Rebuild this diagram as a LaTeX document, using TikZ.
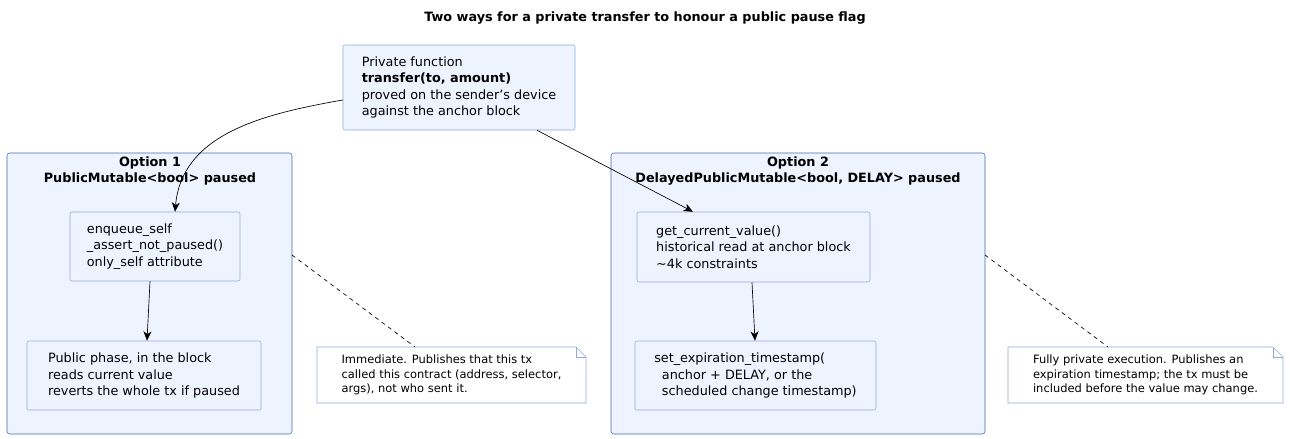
\documentclass[tikz,border=0pt]{standalone}
\usepackage{fontspec}
\setmainfont{DejaVu Sans}
\usetikzlibrary{positioning, arrows.meta, shapes.misc}
\definecolor{boxfill}{HTML}{EEF4FF}
\definecolor{boxline}{HTML}{8EACD4}
\definecolor{clusterline}{HTML}{3D6DB5}
\tikzset{
  stage/.style={draw=boxline, fill=boxfill, rounded corners=1.5pt, align=left, inner sep=0pt, font=\fontsize{9.6}{12.2}\selectfont},
  cluster/.style={draw=clusterline, fill=boxfill, rounded corners=2pt, inner sep=0pt},
  ctitle/.style={align=center, font=\bfseries\fontsize{9.6}{12.2}\selectfont},
  remark/.style={align=left, inner sep=0pt, font=\fontsize{8.6}{11}\selectfont},
  flow/.style={-{Stealth[length=7pt, width=6pt, inset=2pt]}, line width=0.5pt},
  link/.style={dashed, line width=0.5pt}
}
\begin{document}
\begin{tikzpicture}[x=0.75pt, y=-0.75pt]
	\useasboundingbox (0,0) rectangle (1290,439);
	\node[font=\bfseries\fontsize{9.6}{12}\selectfont] (title) at (645,18) {Two ways for a private transfer to honour a public pause flag};

	% private entry point
	\node[stage, minimum width=174pt, minimum height=63.75pt] (private) at (459,87.5) {Private function\\\textbf{transfer(to, amount)}\\proved on the sender's device\\against the anchor block};

	% option 1
	\draw[cluster] (7,153) rectangle (292,434);
	\coordinate (opt1) at (292,255);
	\node[ctitle] (opt1title) at (150,171) {Option 1\\PublicMutable<bool> paused};
	\node[stage, minimum width=127.5pt, minimum height=51.75pt] (enqueue) at (155,246.5) {enqueue\_self\\\_assert\_not\_paused()\\only\_self attribute};
	\node[stage, minimum width=175.5pt, minimum height=51.75pt] (public) at (144,375.5) {Public phase, in the block\\reads current value\\reverts the whole tx if paused};

	% option 2
	\draw[cluster] (611,153) rectangle (985,434);
	\coordinate (opt2) at (985,255);
	\node[ctitle] (opt2title) at (798,171) {Option 2\\DelayedPublicMutable<bool, DELAY> paused};
	\node[stage, minimum width=174.75pt, minimum height=52.5pt] (current) at (753.5,247) {get\_current\_value()\\historical read at anchor block\\\textasciitilde4k constraints};
	\node[stage, minimum width=180.75pt, minimum height=51.75pt] (expiry) at (755.5,375.5) {set\_expiration\_timestamp(\\\hspace*{0.6em}anchor + DELAY, or the\\\hspace*{0.6em}scheduled change timestamp)};

	% notes
	\draw[draw=boxline, fill=white] (317,347) -- (576,347) -- (586,357) -- (586,403) -- (317,403) -- cycle;
	\draw[draw=boxline] (576,347) -- (576,357) -- (586,357);
	\node[remark] (note1) at (451.5,375) {Immediate. Publishes that this tx\\called this contract (address, selector,\\args), not who sent it.};
	\coordinate (note1top) at (415,347);
	\draw[draw=boxline, fill=white] (1008,347) -- (1273,347) -- (1283,357) -- (1283,403) -- (1008,403) -- cycle;
	\draw[draw=boxline] (1273,347) -- (1273,357) -- (1283,357);
	\node[remark] (note2) at (1145.5,375) {Fully private execution. Publishes an\\expiration timestamp; the tx must be\\included before the value may change.};
	\coordinate (note2top) at (1108,347);

	\draw[flow] (private.west |- 0,100) to[out=190, in=85] (enqueue.north -| 175,0);
	\draw[flow] (private.south -| 537,0) -- (current.north -| 693,0);
	\draw[flow] (enqueue.south -| 150,0) -- (public.north -| 147,0);
	\draw[flow] (current.south -| 752,0) -- (expiry.north -| 755,0);
	\draw[link] (opt1) -- (note1top);
	\draw[link] (opt2) -- (note2top);
\end{tikzpicture}
\end{document}
